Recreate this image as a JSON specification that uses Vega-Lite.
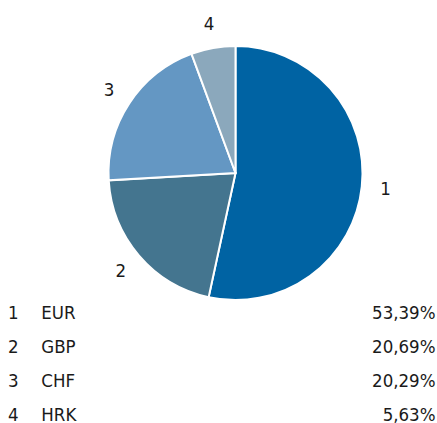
{
  "$schema": "https://vega.github.io/schema/vega-lite/v6.json",
  "padding": {"left": 0, "top": 15, "right": 0, "bottom": 0},
  "spacing": 0,
  "bounds": "full",
  "config": {
    "view": {"stroke": null},
    "font": "'Liberation Sans Narrow', 'DejaVu Sans Condensed', 'Roboto Condensed', Roboto, sans-serif",
    "locale": {"number": {"decimal": ",", "thousands": ".", "grouping": [3], "currency": ["", " €"]}}
  },
  "data": {
    "values": [
      {"rank": 1, "currency": "EUR", "share": 0.5339},
      {"rank": 2, "currency": "GBP", "share": 0.2069},
      {"rank": 3, "currency": "CHF", "share": 0.2029},
      {"rank": 4, "currency": "HRK", "share": 0.0563}
    ]
  },
  "vconcat": [
    {
      "hconcat": [
        {
          "width": 34,
          "height": 254,
          "data": {"values": []},
          "mark": {"type": "point", "opacity": 0},
          "encoding": {}
        },
        {
          "width": 403,
          "height": 254,
          "layer": [
            {
              "mark": {"type": "arc", "radius": 127, "stroke": "#ffffff", "strokeWidth": 2},
              "encoding": {
                "theta": {"field": "share", "type": "quantitative", "stack": true},
                "order": {"field": "rank", "type": "quantitative"},
                "color": {
                  "field": "currency",
                  "type": "nominal",
                  "scale": {"domain": ["EUR", "GBP", "CHF", "HRK"], "range": ["#0063A3", "#44758F", "#6497C3", "#8BA8BC"]},
                  "legend": null
                }
              }
            },
            {
              "mark": {"type": "text", "radius": 151, "fontSize": 18.5, "color": "#1a1a1a"},
              "encoding": {
                "theta": {"field": "share", "type": "quantitative", "stack": true},
                "order": {"field": "rank", "type": "quantitative"},
                "text": {"field": "rank", "type": "nominal"}
              }
            }
          ]
        }
      ],
      "spacing": 0
    },
    {
      "width": 437,
      "height": 110,
      "layer": [
        {
          "mark": {"type": "text", "align": "left", "fontSize": 18.5, "color": "#1a1a1a"},
          "encoding": {
            "y": {"field": "rank", "type": "ordinal", "axis": null, "scale": {"type": "point", "padding": 0.12}},
            "x": {"datum": 0.0183, "type": "quantitative", "axis": null, "scale": {"domain": [0, 1]}},
            "text": {"field": "rank", "type": "nominal"}
          }
        },
        {
          "mark": {"type": "text", "align": "left", "fontSize": 18.5, "color": "#1a1a1a"},
          "encoding": {
            "y": {"field": "rank", "type": "ordinal", "axis": null},
            "x": {"datum": 0.0945, "type": "quantitative", "axis": null},
            "text": {"field": "currency", "type": "nominal"}
          }
        },
        {
          "mark": {"type": "text", "align": "right", "fontSize": 18.5, "color": "#1a1a1a"},
          "encoding": {
            "y": {"field": "rank", "type": "ordinal", "axis": null},
            "x": {"datum": 0.9966, "type": "quantitative", "axis": null},
            "text": {"field": "share", "type": "quantitative", "format": ".2%"}
          }
        }
      ]
    }
  ]
}
